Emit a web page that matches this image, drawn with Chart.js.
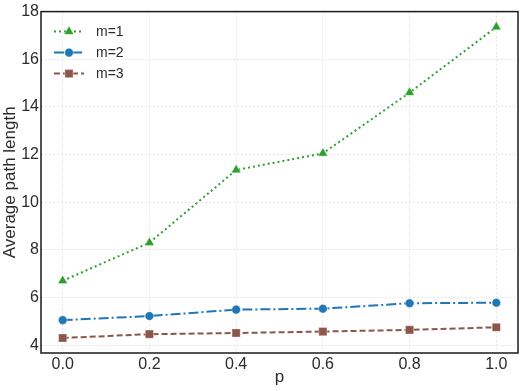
<!DOCTYPE html>
<html>
<head>
<meta charset="utf-8">
<script src="https://cdn.jsdelivr.net/npm/chart.js@4/dist/chart.umd.min.js"></script>
<style>
  html, body { margin: 0; padding: 0; background: #fff; }
  #wrap { width: 532px; height: 391px; }
</style>
</head>
<body>
<div id="wrap"><canvas id="myChart" width="532" height="391"></canvas></div>
<script>
// data
var pValues = [0.0, 0.2, 0.4, 0.6, 0.8, 1.0];
var m1 = [6.7, 8.3, 11.35, 12.05, 14.6, 17.35];
var m2 = [5.05, 5.22, 5.49, 5.53, 5.76, 5.78];
var m3 = [4.30, 4.46, 4.51, 4.57, 4.64, 4.75];
var xTicks = [0.0, 0.2, 0.4, 0.6, 0.8, 1.0];
var yTicks = [4, 6, 8, 10, 12, 14, 16, 18];
var seriesNames = ['m=1', 'm=2', 'm=3'];

var FONT = "'Liberation Sans', Arial, sans-serif";
var TXT = '#2b2b2b';

function pts(ys) {
  return pValues.map(function (x, i) { return { x: x, y: ys[i] }; });
}

var series = [
  { label: seriesNames[0], data: pts(m1), color: '#2ca02c', dash: [2, 3], style: 'triangle', r: 5.5 },
  { label: seriesNames[1], data: pts(m2), color: '#1f77b4', dash: [10, 3, 2, 3], style: 'circle', r: 4.3 },
  { label: seriesNames[2], data: pts(m3), color: '#8c564b', dash: [6, 3], style: 'rect', r: 5.8 }
];

// legend drawn inside the axes, top-left, like matplotlib
var innerLegend = {
  id: 'innerLegend',
  afterDraw: function (chart) {
    var ctx = chart.ctx;
    var a = chart.chartArea;
    ctx.save();
    series.forEach(function (s, i) {
      var y = a.top + 20 + i * 21;
      var x0 = a.left + 13, x1 = a.left + 43;
      ctx.strokeStyle = s.color;
      ctx.lineWidth = 2;
      ctx.setLineDash(s.dash);
      ctx.beginPath();
      ctx.moveTo(x0, y);
      ctx.lineTo(x1, y);
      ctx.stroke();
      ctx.setLineDash([]);
      ctx.fillStyle = s.color;
      ctx.strokeStyle = 'rgba(255,255,255,0.7)';
      ctx.lineWidth = 0.5;
      Chart.helpers.drawPoint(ctx, { pointStyle: s.style, radius: s.r, borderWidth: 0.5, rotation: 0 }, (x0 + x1) / 2, y);
      ctx.fillStyle = TXT;
      ctx.font = '14px ' + FONT;
      ctx.textBaseline = 'middle';
      ctx.textAlign = 'left';
      ctx.fillText(s.label, a.left + 55, y + 1);
    });
    ctx.restore();
  }
};

// box around the axes
var frame = {
  id: 'frame',
  afterDatasetsDraw: function (chart) {
    var a = chart.chartArea;
    var ctx = chart.ctx;
    ctx.save();
    ctx.strokeStyle = '#1a1a1a';
    ctx.lineWidth = 1.5;
    ctx.strokeRect(a.left, a.top, a.right - a.left, a.bottom - a.top);
    ctx.restore();
  }
};

var ctx = document.getElementById('myChart');
var myChart = new Chart(ctx, {
  type: 'scatter',
  data: {
    datasets: series.map(function (s) {
      return {
        label: s.label,
        data: s.data,
        showLine: true,
        borderColor: s.color,
        borderWidth: 2,
        borderDash: s.dash,
        backgroundColor: s.color,
        pointStyle: s.style,
        pointRadius: s.r,
        pointHoverRadius: s.r,
        pointBackgroundColor: s.color,
        pointBorderColor: 'rgba(255,255,255,0.7)',
        pointBorderWidth: 0.5,
        tension: 0
      };
    })
  },
  options: {
    responsive: false,
    animation: false,
    layout: { padding: { left: 0, top: 9, right: 14, bottom: 0 } },
    plugins: {
      legend: { display: false },
      tooltip: { enabled: false }
    },
    scales: {
      x: {
        type: 'linear',
        min: -0.05,
        max: 1.05,
        afterBuildTicks: function (scale) {
          scale.ticks = xTicks.map(function (v) { return { value: v }; });
        },
        afterFit: function (scale) { scale.height = 38; },
        ticks: {
          color: TXT,
          font: { family: FONT, size: 16 },
          padding: 2,
          maxRotation: 0,
          callback: function (v) { return Number(v).toFixed(1); }
        },
        grid: { color: '#e6e6e6', drawTicks: false },
        border: { display: false, dash: [2, 2] },
        title: {
          display: true,
          text: 'p',
          color: TXT,
          font: { family: FONT, size: 17 },
          padding: { top: 0, bottom: 3 }
        }
      },
      y: {
        min: 3.67,
        max: 18,
        afterBuildTicks: function (scale) {
          scale.ticks = yTicks.map(function (v) { return { value: v }; });
        },
        afterFit: function (scale) { scale.width = 41; },
        ticks: {
          color: TXT,
          font: { family: FONT, size: 16 },
          padding: 2
        },
        grid: { color: '#e6e6e6', drawTicks: false },
        border: { display: false, dash: [2, 2] },
        title: {
          display: true,
          text: 'Average path length',
          color: TXT,
          font: { family: FONT, size: 17 },
          padding: { top: 0, bottom: 0 }
        }
      }
    }
  },
  plugins: [frame, innerLegend]
});
</script>
</body>
</html>
